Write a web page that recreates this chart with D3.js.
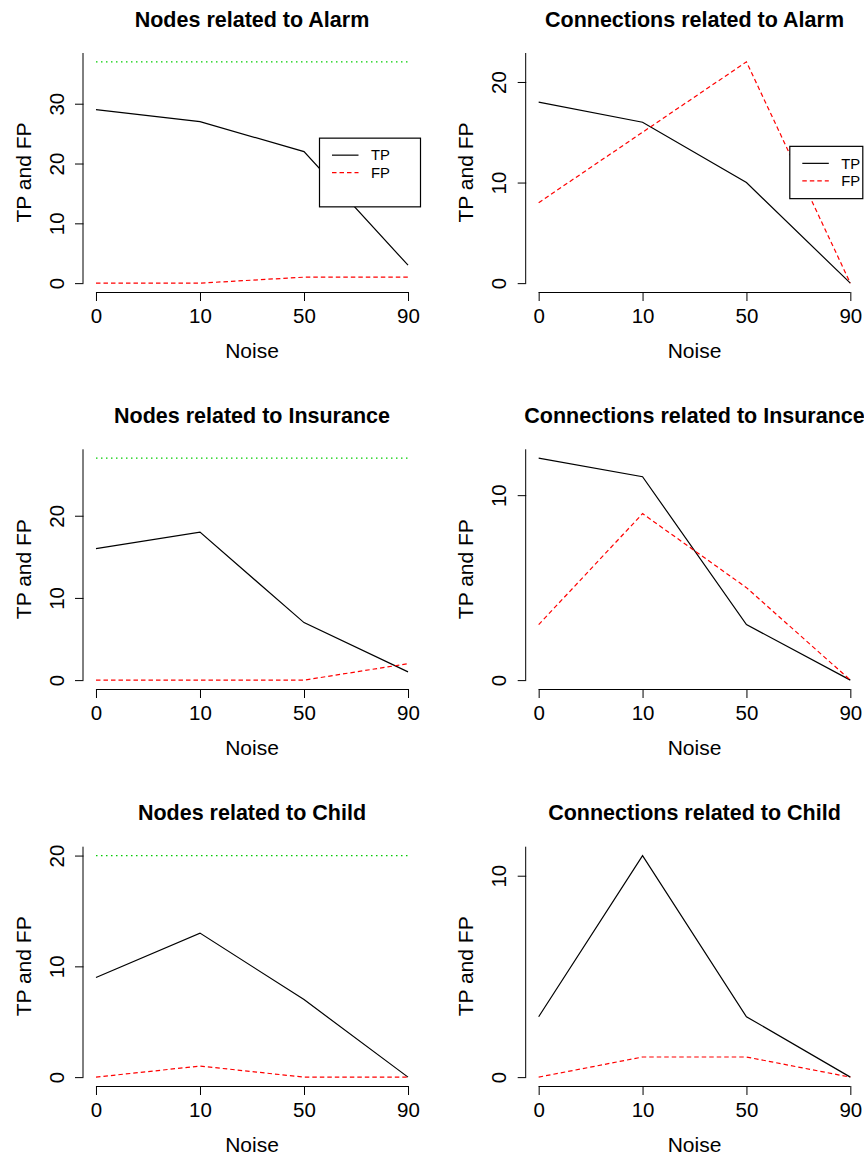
<!DOCTYPE html>
<html>
<head>
<meta charset="utf-8">
<script src="https://cdn.jsdelivr.net/npm/d3@7"></script>
<style>
  html, body { margin: 0; padding: 0; background: #fff; }
  svg { display: block; font-family: "Liberation Sans", Arial, sans-serif; }
</style>
</head>
<body>
<svg id="chart" width="864" height="1155"></svg>
<script>
// ---- Data ----
const noiseLevels = ["0", "10", "50", "90"];

const nodesAlarmTP = [29, 27, 22, 3];
const nodesAlarmFP = [0, 0, 1, 1];
const nodesAlarmTotal = 37;

const connAlarmTP = [18, 16, 10, 0];
const connAlarmFP = [8, 15, 22, 0];

const nodesInsuranceTP = [16, 18, 7, 1];
const nodesInsuranceFP = [0, 0, 0, 2];
const nodesInsuranceTotal = 27;

const connInsuranceTP = [12, 11, 3, 0];
const connInsuranceFP = [3, 9, 5, 0];

const nodesChildTP = [9, 13, 7, 0];
const nodesChildFP = [0, 1, 0, 0];
const nodesChildTotal = 20;

const connChildTP = [3, 11, 3, 0];
const connChildFP = [0, 1, 1, 0];

const titles = [
  "Nodes related to Alarm", "Connections related to Alarm",
  "Nodes related to Insurance", "Connections related to Insurance",
  "Nodes related to Child", "Connections related to Child"
];
const yTickSets = [[0, 10, 20, 30], [0, 10, 20], [0, 10, 20], [0, 10], [0, 10, 20], [0, 10]];
const legendLabels = ["TP", "FP"];
const xLabel = "Noise";
const yLabel = "TP and FP";

// ---- Layout ----
const colLeft = [83.5, 526.2];
const colRight = [420.5, 862.8];
const rowTop = [53, 449.3, 846.7];
const rowBottom = [292, 689, 1086];

const panels = [
  { tp: nodesAlarmTP, fp: nodesAlarmFP, total: nodesAlarmTotal, legend: { w: 101, h: 68.7 } },
  { tp: connAlarmTP, fp: connAlarmFP, total: null, legend: { w: 73, h: 52.3 } },
  { tp: nodesInsuranceTP, fp: nodesInsuranceFP, total: nodesInsuranceTotal, legend: null },
  { tp: connInsuranceTP, fp: connInsuranceFP, total: null, legend: null },
  { tp: nodesChildTP, fp: nodesChildFP, total: nodesChildTotal, legend: null },
  { tp: connChildTP, fp: connChildFP, total: null, legend: null }
];

const svg = d3.select("#chart");

panels.forEach((p, i) => {
  const col = i % 2, row = Math.floor(i / 2);
  const L = colLeft[col], R = colRight[col], T = rowTop[row], B = rowBottom[row];
  const g = svg.append("g");

  const idx = d3.range(noiseLevels.length);
  const x = d3.scaleLinear().domain([0.88, noiseLevels.length + 0.12]).range([L, R]);
  const vals = p.tp.concat(p.fp).concat(p.total != null ? [p.total] : []);
  const ymax = d3.max(vals), ymin = 0;
  const r = ymax - ymin;
  const y = d3.scaleLinear().domain([ymin - 0.04 * r, ymax + 0.04 * r]).range([B, T]);

  // Title
  g.append("text")
    .attr("x", (L + R) / 2).attr("y", T - 26.5)
    .attr("text-anchor", "middle")
    .style("font-size", "21.5px").style("font-weight", "bold")
    .text(titles[i]);

  // X axis
  const xAxis = d3.axisBottom(x)
    .tickValues(idx.map(d => d + 1))
    .tickFormat((d, k) => noiseLevels[k])
    .tickSizeInner(9).tickSizeOuter(0);
  const gx = g.append("g").attr("transform", `translate(0,${B})`).call(xAxis);
  gx.select(".domain").remove();
  gx.selectAll(".tick line").attr("stroke", "#000").attr("stroke-width", 1);
  gx.selectAll(".tick text")
    .attr("y", 31).attr("dy", null)
    .attr("fill", "#000")
    .style("font-size", "20.5px").style("font-family", "Liberation Sans, Arial, sans-serif");
  gx.append("line")
    .attr("x1", x(1)).attr("x2", x(noiseLevels.length))
    .attr("y1", 0.5).attr("y2", 0.5)
    .attr("stroke", "#000").attr("stroke-width", 1);

  // Y axis
  const yAxis = d3.axisLeft(y).tickValues(yTickSets[i]).tickFormat(d3.format("d"))
    .tickSizeInner(8.5).tickSizeOuter(0);
  const gy = g.append("g").attr("transform", `translate(${L},0)`).call(yAxis);
  gy.select(".domain").remove();
  gy.selectAll(".tick line").attr("stroke", "#000").attr("stroke-width", 1);
  gy.selectAll(".tick text")
    .attr("x", null).attr("dy", null)
    .attr("transform", "translate(-20,0) rotate(-90)")
    .attr("text-anchor", "middle")
    .attr("fill", "#000")
    .style("font-size", "20.5px").style("font-family", "Liberation Sans, Arial, sans-serif");
  gy.append("line")
    .attr("x1", -0.5).attr("x2", -0.5)
    .attr("y1", y(0)).attr("y2", T)
    .attr("stroke", "#000").attr("stroke-width", 1);

  // Axis labels
  g.append("text")
    .attr("x", (L + R) / 2).attr("y", B + 66)
    .attr("text-anchor", "middle")
    .style("font-size", "21px")
    .text(xLabel);
  g.append("text")
    .attr("transform", `translate(${L - 53},${(T + B) / 2}) rotate(-90)`)
    .attr("text-anchor", "middle")
    .style("font-size", "21px")
    .text(yLabel);

  const line = d3.line().x((d, k) => x(k + 1)).y(d => y(d));

  // Total (green dotted)
  if (p.total != null) {
    const totals = idx.map(() => p.total);
    g.append("path").datum(totals)
      .attr("d", line)
      .attr("fill", "none").attr("stroke", "#00cc00")
      .attr("stroke-width", 1.2).attr("stroke-dasharray", "1.5,3.5");
  }
  // TP
  g.append("path").datum(p.tp)
    .attr("d", line).attr("fill", "none")
    .attr("stroke", "#000").attr("stroke-width", 1.2);
  // FP
  g.append("path").datum(p.fp)
    .attr("d", line).attr("fill", "none")
    .attr("stroke", "#ff0000").attr("stroke-width", 1.2)
    .attr("stroke-dasharray", "4.5,3");

  // Legend
  if (p.legend) {
    const lw = p.legend.w, lh = p.legend.h;
    const lx = R - lw, ly = (T + B) / 2 - lh / 2;
    const lg = g.append("g");
    lg.append("rect")
      .attr("x", lx).attr("y", ly).attr("width", lw).attr("height", lh)
      .attr("fill", "#fff").attr("stroke", "#000").attr("stroke-width", 1.2);
    const styles = [
      { stroke: "#000", dash: null },
      { stroke: "#ff0000", dash: "4.5,3" }
    ];
    legendLabels.forEach((lab, k) => {
      const yy = ly + 17 + k * 17.5;
      lg.append("line")
        .attr("x1", lx + 12.5).attr("x2", lx + 39)
        .attr("y1", yy).attr("y2", yy)
        .attr("stroke", styles[k].stroke).attr("stroke-width", 1.2)
        .attr("stroke-dasharray", styles[k].dash);
      lg.append("text")
        .attr("x", lx + 51.5).attr("y", yy + 5.2)
        .style("font-size", "14.8px")
        .text(lab);
    });
  }
});
</script>
</body>
</html>
